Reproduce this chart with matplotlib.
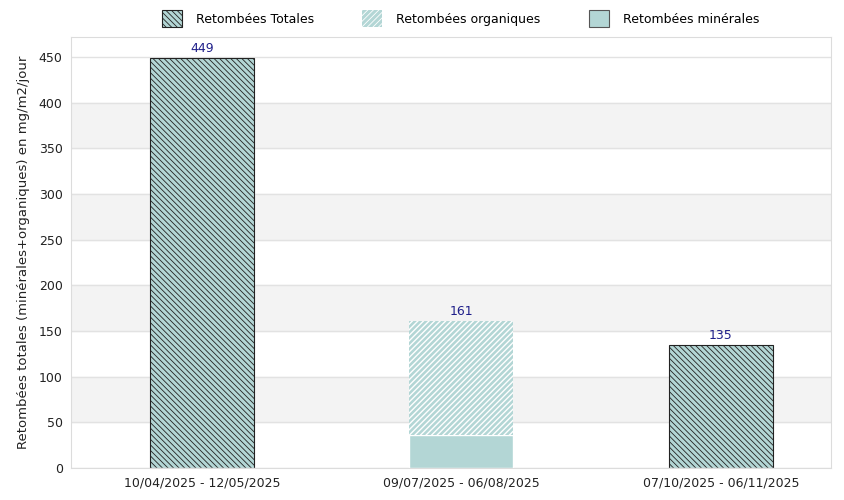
import matplotlib.pyplot as plt
from matplotlib.patches import Patch
import numpy as np

periodes = ['10/04/2025 - 12/05/2025', '09/07/2025 - 06/08/2025', '07/10/2025 - 06/11/2025']
totales = [449, 0, 135]
minerales = [0, 36, 0]
organiques = [0, 125, 0]
etiquettes = [449, 161, 135]

teal = '#b3d6d5'
plt.rcParams['hatch.linewidth'] = 0.6
plt.rcParams['hatch.color'] = '#404d4d'

fig = plt.figure(figsize=(8.45, 5), dpi=100)
ax = fig.add_axes([71 / 845, 32 / 500, 760 / 845, 431 / 500])

x = np.arange(len(periodes))
w = 0.4
h_tot = '\\' * 6
h_org = '/' * 6

# bandes de fond
for lo in range(50, 450, 100):
    ax.axhspan(lo, lo + 50, color='#f3f3f3', zorder=0)
for y in range(0, 500, 50):
    ax.axhline(y, color='#e2e2e2', lw=1, zorder=0.5)

ax.bar(x, totales, w, color=teal, edgecolor='#222222', hatch=h_tot, lw=0.8, zorder=2)
ax.bar(x, minerales, w, color=teal, edgecolor='white', lw=1, zorder=2)
b = ax.bar(x, organiques, w, bottom=minerales, color=teal, edgecolor='white',
           hatch=h_org, lw=0, zorder=2)
for p in b:
    p._hatch_color = (1, 1, 1, 1)
    p._hatch_linewidth = 1.0

for xi, v in zip(x, etiquettes):
    ax.text(xi, v + 3, str(v), ha='center', va='bottom', color='#1f1f8a', fontsize=9)

ax.set_xlim(-0.505, 2.425)
ax.set_ylim(0, 472)
ax.set_yticks(range(0, 451, 50))
ax.set_xticks(x)
ax.set_xticklabels(periodes)
ax.tick_params(length=0, labelsize=9, colors='#222222', pad=6)
ax.set_ylabel('Retombées totales (minérales+organiques) en mg/m2/jour', fontsize=9.5,
              color='#222222', labelpad=6)
for s in ax.spines.values():
    s.set_color('#dcdcdc')

h1 = Patch(facecolor=teal, edgecolor='#222222', hatch=h_tot, lw=0.8)
h2 = Patch(facecolor=teal, edgecolor='white', hatch=h_org, lw=0)
h2._hatch_color = (1, 1, 1, 1)
h2._hatch_linewidth = 1.0
h3 = Patch(facecolor=teal, edgecolor='#555555', lw=0.8)
leg = fig.legend([h1, h2, h3], ['Retombées Totales', 'Retombées organiques', 'Retombées minérales'],
                 loc='center', bbox_to_anchor=(0.545, 0.963), ncol=3, frameon=False,
                 fontsize=9, columnspacing=3.9, handlelength=1.6, handleheight=1.6, handletextpad=1.1)

fig.savefig('out.png', dpi=100)
